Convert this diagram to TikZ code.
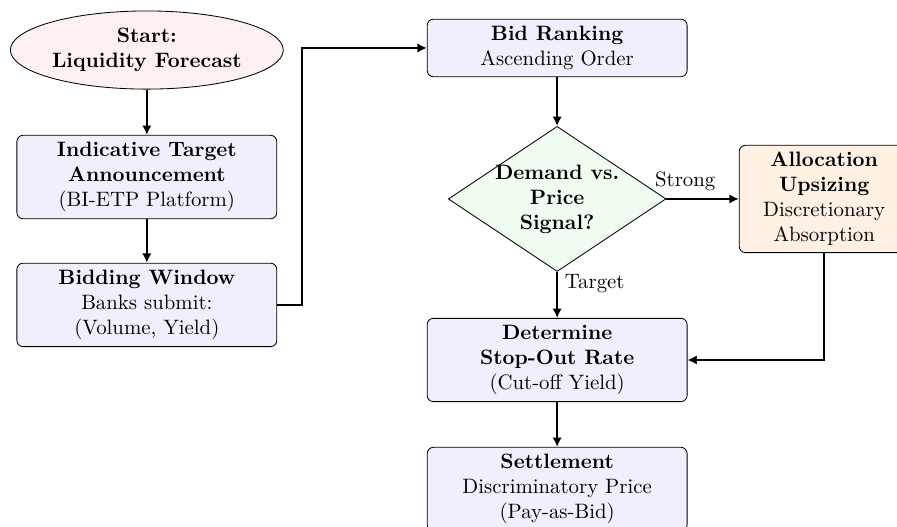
\documentclass[tikz,border=0pt]{standalone}
\usepackage{amsmath}
\usepackage{tikz}
\usepackage{xcolor}
\usetikzlibrary{shapes.geometric,arrows.meta}

\definecolor{startfill}{RGB}{253,240,240}
\definecolor{boxfill}{RGB}{240,240,252}
\definecolor{signalfill}{RGB}{240,252,240}
\definecolor{allocfill}{RGB}{254,241,228}

\tikzset{
	startnode/.style = {ellipse, draw = black, fill = startfill, inner sep = 0pt, minimum width = 4.61cm, minimum height = 1.32cm, align = center, font = \bfseries},
	procbox/.style = {rectangle, rounded corners = 3pt, draw = black, fill = boxfill, minimum width = 4.39cm, align = center},
	signalnode/.style = {diamond, draw = black, fill = signalfill, aspect = 1.5, inner sep = -0.9pt, align = center, font = \bfseries},
	allocbox/.style = {rectangle, rounded corners = 3pt, draw = black, fill = allocfill, minimum width = 2.87cm, align = center},
	flow/.style = {thick, -{Latex[length=4.5pt,width=4.5pt]}}
}

\begin{document}
\begin{tikzpicture}
		\useasboundingbox (0,0) rectangle (15.15,-8.90);
		\node[startnode] (start) at (2.48,-0.845) {Start:\\Liquidity Forecast};
		\node[procbox] (announce) at (2.48,-2.99) {\textbf{Indicative Target}\\\textbf{Announcement}\\(BI-ETP Platform)};
		\node[procbox] (bidding) at (2.48,-5.15) {\textbf{Bidding Window}\\Banks submit:\\(Volume, Yield)};
		\node[procbox] (ranking) at (9.41,-0.81) {\textbf{Bid Ranking}\\Ascending Order};
		\node[signalnode] (signal) at (9.41,-3.36) {Demand vs.\\Price\\Signal?};
		\node[allocbox] (alloc) at (13.92,-3.36) {\textbf{Allocation}\\\textbf{Upsizing}\\Discretionary\\Absorption};
		\node[procbox] (stopout) at (9.41,-6.08) {\textbf{Determine}\\\textbf{Stop-Out Rate}\\(Cut-off Yield)};
		\node[procbox] (settle) at (9.41,-8.26) {\textbf{Settlement}\\Discriminatory Price\\(Pay-as-Bid)};
		\draw[flow] (start) -- (announce);
		\draw[flow] (announce) -- (bidding);
		\draw[flow] (bidding.east) -- ++(0.42,0) |- (ranking.west);
		\draw[flow] (ranking) -- (signal);
		\draw[flow] (signal.east) -- node[above, pos = 0.26]{Strong} (alloc.west);
		\draw[flow] (signal.south) -- node[right, pos = 0.25]{Target} (stopout.north);
		\draw[flow] (alloc.south) |- (stopout.east);
		\draw[flow] (stopout) -- (settle);
	\end{tikzpicture}
\end{document}
